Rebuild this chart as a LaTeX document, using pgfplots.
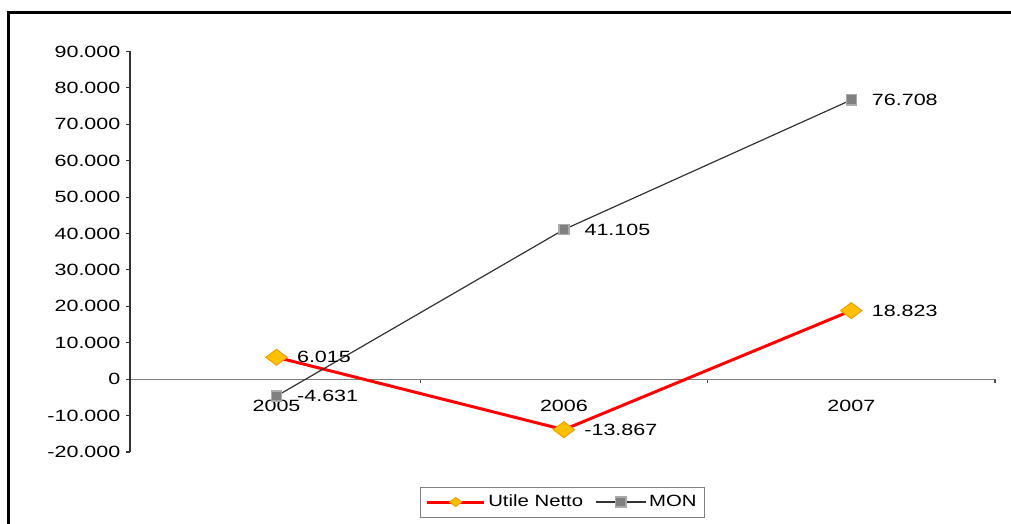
\documentclass[border=0pt]{standalone}
\usepackage{pgfplots}
\pgfplotsset{compat=1.18}
\usepackage{fontspec}
\setmainfont{Liberation Sans}[FakeStretch=1.25]
\newfontfamily\numfont{Liberation Sans}[FakeStretch=1.32]

\definecolor{netred}{RGB}{255,0,0}
\definecolor{netgold}{RGB}{255,192,0}
\definecolor{netedge}{RGB}{240,160,0}
\definecolor{monline}{RGB}{51,51,51}
\definecolor{monfill}{RGB}{128,128,128}
\definecolor{monedge}{RGB}{170,170,170}

\begin{document}
\fontsize{12.2}{14.6}\selectfont
\begin{tikzpicture}
\useasboundingbox (0pt,0pt) rectangle (758.25pt,-393pt);
\begin{axis}[
  at={(97.5pt,-339pt)}, anchor=south west,
  scale only axis, width=648.75pt, height=300.375pt,
  xmin=0.49, xmax=3.5, ymin=-20000, ymax=90000,
  axis y line*=left, axis x line*=middle,
  x axis line style={draw=gray, line width=1pt},
  y axis line style={draw=black!80, line width=0.8pt},
  xtick={0.49,1.5,2.5,3.5}, xticklabels={},
  x tick style={draw=black!70, line width=0.8pt},
  extra x ticks={1,2,3}, extra x tick labels={2005,2006,2007},
  extra x tick style={major tick length=0pt,
    xticklabel style={anchor=center, yshift=-20pt}},
  ytick={-20000,-10000,...,90000},
  y tick style={draw=black!80, line width=0.8pt},
  scaled y ticks=false,
  tick label style={font=\numfont},
  yticklabel style={/pgf/number format/.cd, 1000 sep={.}, fixed},
  /pgf/number format/assume math mode=true,
  tick align=outside, major tick length=3pt,
  nodes near coords={\pgfmathprintnumber[1000 sep={.},assume math mode=true]{\pgfplotspointmeta}},
  every node near coord/.append style={anchor=west, xshift=15pt, inner sep=0pt,
    text=black, font=\numfont},
  legend columns=2,
  legend style={at={(0.5,-0.125)}, anchor=center, draw=gray,
    inner xsep=4pt, inner ysep=4pt,
    /tikz/every even column/.append style={column sep=7pt}},
]
\addplot[color=netred, line width=2.25pt, mark=diamond*, mark size=8pt,
  mark options={rotate=90, fill=netgold, draw=netedge, line width=0.75pt},
  legend image code/.code={\draw[mark repeat=2, mark phase=2, mark size=4.5pt]
    plot coordinates {(0cm,0cm) (0.75cm,0cm) (1.5cm,0cm)};}]
  coordinates {(1,6015) (2,-13867) (3,18823)};
\addlegendentry{Utile Netto}
\addplot[color=monline, line width=0.9pt, mark=square*, mark size=3.8pt,
  mark options={fill=monfill, draw=monedge, line width=1pt},
  legend image code/.code={\draw[mark repeat=2, mark phase=2]
    plot coordinates {(0cm,0cm) (0.66cm,0cm) (1.32cm,0cm)};}]
  coordinates {(1,-4631) (2,41105) (3,76708)};
\addlegendentry{MON}
\end{axis}
\draw[line width=2pt, black] (6.4pt,-400pt) -- (6.4pt,-9.4pt) -- (765pt,-9.4pt);
\end{tikzpicture}
\end{document}
